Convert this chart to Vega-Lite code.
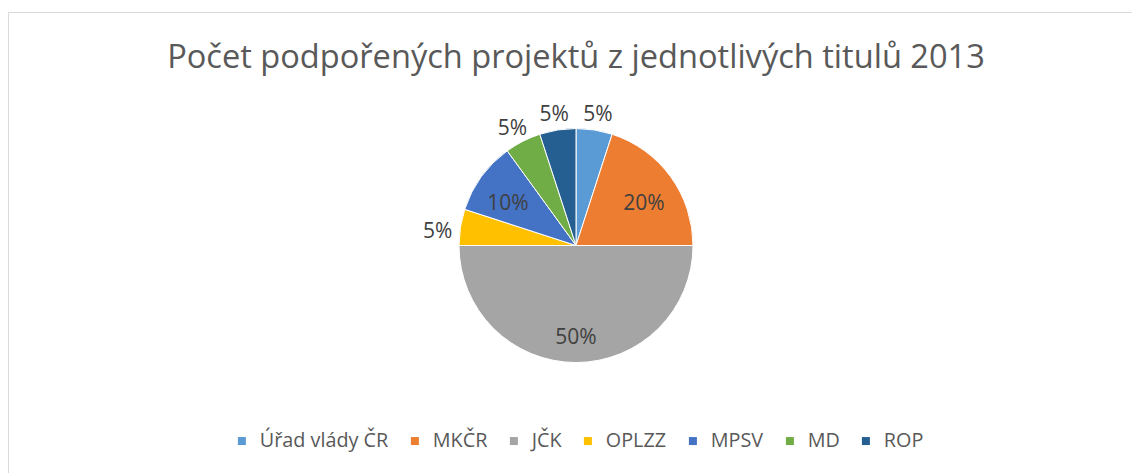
{
  "$schema": "https://vega.github.io/schema/vega-lite/v6.json",
  "width": 1136,
  "height": 467,
  "autosize": {"type": "none"},
  "padding": {"left": 8, "top": 12, "right": 0, "bottom": 0},
  "background": "white",
  "view": {"stroke": "#d9d9d9", "strokeWidth": 1},
  "config": {
    "view": {"stroke": "#d9d9d9", "strokeWidth": 1},
    "style": {"view": {"stroke": "#d9d9d9", "strokeWidth": 1}}
  },
  "title": {
    "text": "Počet podpořených projektů z jednotlivých titulů 2013",
    "font": "Open Sans",
    "fontSize": 32.6,
    "fontWeight": "normal",
    "color": "#595959",
    "anchor": "middle",
    "offset": -63
  },
  "data": {
    "values": [
      {"i": 1, "titul": "Úřad vlády ČR", "podil": 0.05},
      {"i": 2, "titul": "MKČR", "podil": 0.20},
      {"i": 3, "titul": "JČK", "podil": 0.50},
      {"i": 4, "titul": "OPLZZ", "podil": 0.05},
      {"i": 5, "titul": "MPSV", "podil": 0.10},
      {"i": 6, "titul": "MD", "podil": 0.05},
      {"i": 7, "titul": "ROP", "podil": 0.05}
    ]
  },
  "encoding": {
    "theta": {"field": "podil", "type": "quantitative", "stack": true},
    "order": {"field": "i", "type": "quantitative"}
  },
  "layer": [
    {
      "mark": {"type": "arc", "outerRadius": 117, "stroke": "white", "strokeWidth": 1},
      "encoding": {
        "color": {
          "field": "titul",
          "type": "nominal",
          "sort": ["Úřad vlády ČR", "MKČR", "JČK", "OPLZZ", "MPSV", "MD", "ROP"],
          "scale": {
            "domain": ["Úřad vlády ČR", "MKČR", "JČK", "OPLZZ", "MPSV", "MD", "ROP"],
            "range": ["#5B9BD5", "#ED7D31", "#A5A5A5", "#FFC000", "#4472C4", "#70AD47", "#255E91"]
          },
          "legend": {
            "orient": "none",
            "direction": "horizontal",
            "legendX": 224,
            "legendY": 419,
            "title": null,
            "symbolType": "square",
            "symbolSize": 64,
            "symbolStrokeWidth": 0,
            "labelFont": "Open Sans",
            "labelFontSize": 19.8,
            "labelColor": "#595959",
            "columnPadding": 16,
            "labelOffset": 8,
            "padding": 0
          }
        }
      }
    },
    {
      "mark": {"type": "text", "radius": 84, "dy": 8, "font": "Open Sans", "fontSize": 21, "color": "#404040"},
      "encoding": {
        "text": {"field": "podil", "type": "quantitative", "format": ".0%"},
        "opacity": {"condition": {"test": "datum.podil > 0.06", "value": 1}, "value": 0}
      }
    },
    {
      "mark": {"type": "text", "radius": 140, "dy": 8, "font": "Open Sans", "fontSize": 21, "color": "#404040"},
      "encoding": {
        "text": {"field": "podil", "type": "quantitative", "format": ".0%"},
        "opacity": {"condition": {"test": "datum.podil > 0.06", "value": 0}, "value": 1}
      }
    }
  ]
}
